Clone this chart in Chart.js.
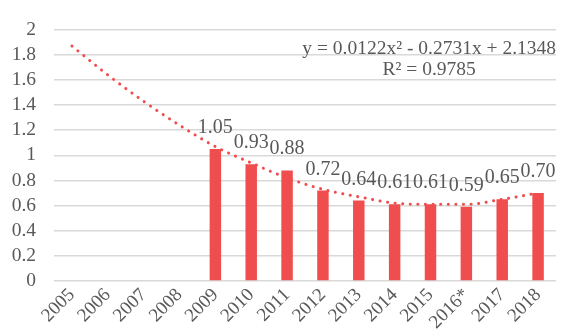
<!DOCTYPE html>
<html>
<head>
<meta charset="utf-8">
<script src="https://cdn.jsdelivr.net/npm/chart.js@4"></script>
<style>
  html, body { margin: 0; padding: 0; background: #fff; }
  #wrap { width: 561px; height: 334px; }
</style>
</head>
<body>
<div id="wrap"><canvas id="chart"></canvas></div>
<script>
// ===============================
// DATA
// ===============================
const years = ["2005", "2006", "2007", "2008", "2009", "2010", "2011",
               "2012", "2013", "2014", "2015", "2016*", "2017", "2018"];

const barValues = [null, null, null, null, 1.05, 0.93, 0.88,
                   0.72, 0.64, 0.61, 0.61, 0.59, 0.65, 0.70];

// trendline (dotted) at each year
const trendValues = [1.87, 1.64, 1.43, 1.24, 1.07, 0.94, 0.82,
                     0.73, 0.67, 0.62, 0.61, 0.61, 0.65, 0.70];

const yTicks = [0, 0.2, 0.4, 0.6, 0.8, 1, 1.2, 1.4, 1.6, 1.8, 2];

const eqLine1 = "y = 0.0122x\u00B2 - 0.2731x + 2.1348";
const eqLine2 = "R\u00B2 = 0.9785";

const RED = "#F04E4E";
const GREY_TXT = "#595959";
const FONT = "'Liberation Serif', 'Times New Roman', serif";

// ===============================
// PLUGIN: labels above bars + equation
// ===============================
const labelsPlugin = {
  id: "labelsPlugin",
  afterDatasetsDraw(chart) {
    const ctx = chart.ctx;
    const meta = chart.getDatasetMeta(1);
    ctx.save();
    ctx.fillStyle = GREY_TXT;
    ctx.font = "20px " + FONT;
    ctx.textAlign = "center";
    ctx.textBaseline = "alphabetic";
    meta.data.forEach((bar, i) => {
      const v = barValues[i];
      if (v == null) return;
      ctx.fillText(v.toFixed(2), bar.x, bar.y - 16);
    });

    // equation box (right aligned to plot)
    const area = chart.chartArea;
    ctx.font = "19.5px " + FONT;
    const w1 = ctx.measureText(eqLine1).width;
    const cx = area.right - w1 / 2;
    ctx.fillText(eqLine1, cx, area.top + 24);
    ctx.fillText(eqLine2, cx, area.top + 45);
    ctx.restore();
  }
};

// ===============================
// CHART
// ===============================
new Chart(document.getElementById("chart"), {
  data: {
    labels: years,
    datasets: [
      {
        type: "line",
        data: trendValues,
        borderColor: RED,
        borderWidth: 3,
        borderDash: [0.1, 7.5],
        borderCapStyle: "round",
        cubicInterpolationMode: "monotone",
        pointRadius: 0,
        fill: false,
        order: 0
      },
      {
        type: "bar",
        data: barValues,
        backgroundColor: RED,
        barPercentage: 0.32,
        categoryPercentage: 1,
        order: 1
      }
    ]
  },
  options: {
    responsive: true,
    maintainAspectRatio: false,
    animation: false,
    events: [],
    layout: { padding: { top: 23, right: 5, left: 0, bottom: 0 } },
    plugins: {
      legend: { display: false },
      tooltip: { enabled: false }
    },
    scales: {
      x: {
        grid: { display: false, drawTicks: false },
        border: { display: false },
        ticks: {
          color: GREY_TXT,
          font: { family: FONT, size: 19 },
          maxRotation: 45,
          minRotation: 45,
          padding: 3,
          autoSkip: false
        },
        afterFit(s) { s.height = 53; }
      },
      y: {
        min: 0,
        max: 2,
        afterBuildTicks(s) { s.ticks = yTicks.map(v => ({ value: v })); },
        grid: { color: "#D9D9D9", lineWidth: 1.5, drawTicks: false },
        border: { display: false },
        ticks: {
          color: GREY_TXT,
          font: { family: FONT, size: 19.5 },
          padding: 18,
          autoSkip: false,
          callback: v => String(v)
        },
        afterFit(s) { s.width = 54; }
      }
    }
  },
  plugins: [labelsPlugin]
});
</script>
</body>
</html>
